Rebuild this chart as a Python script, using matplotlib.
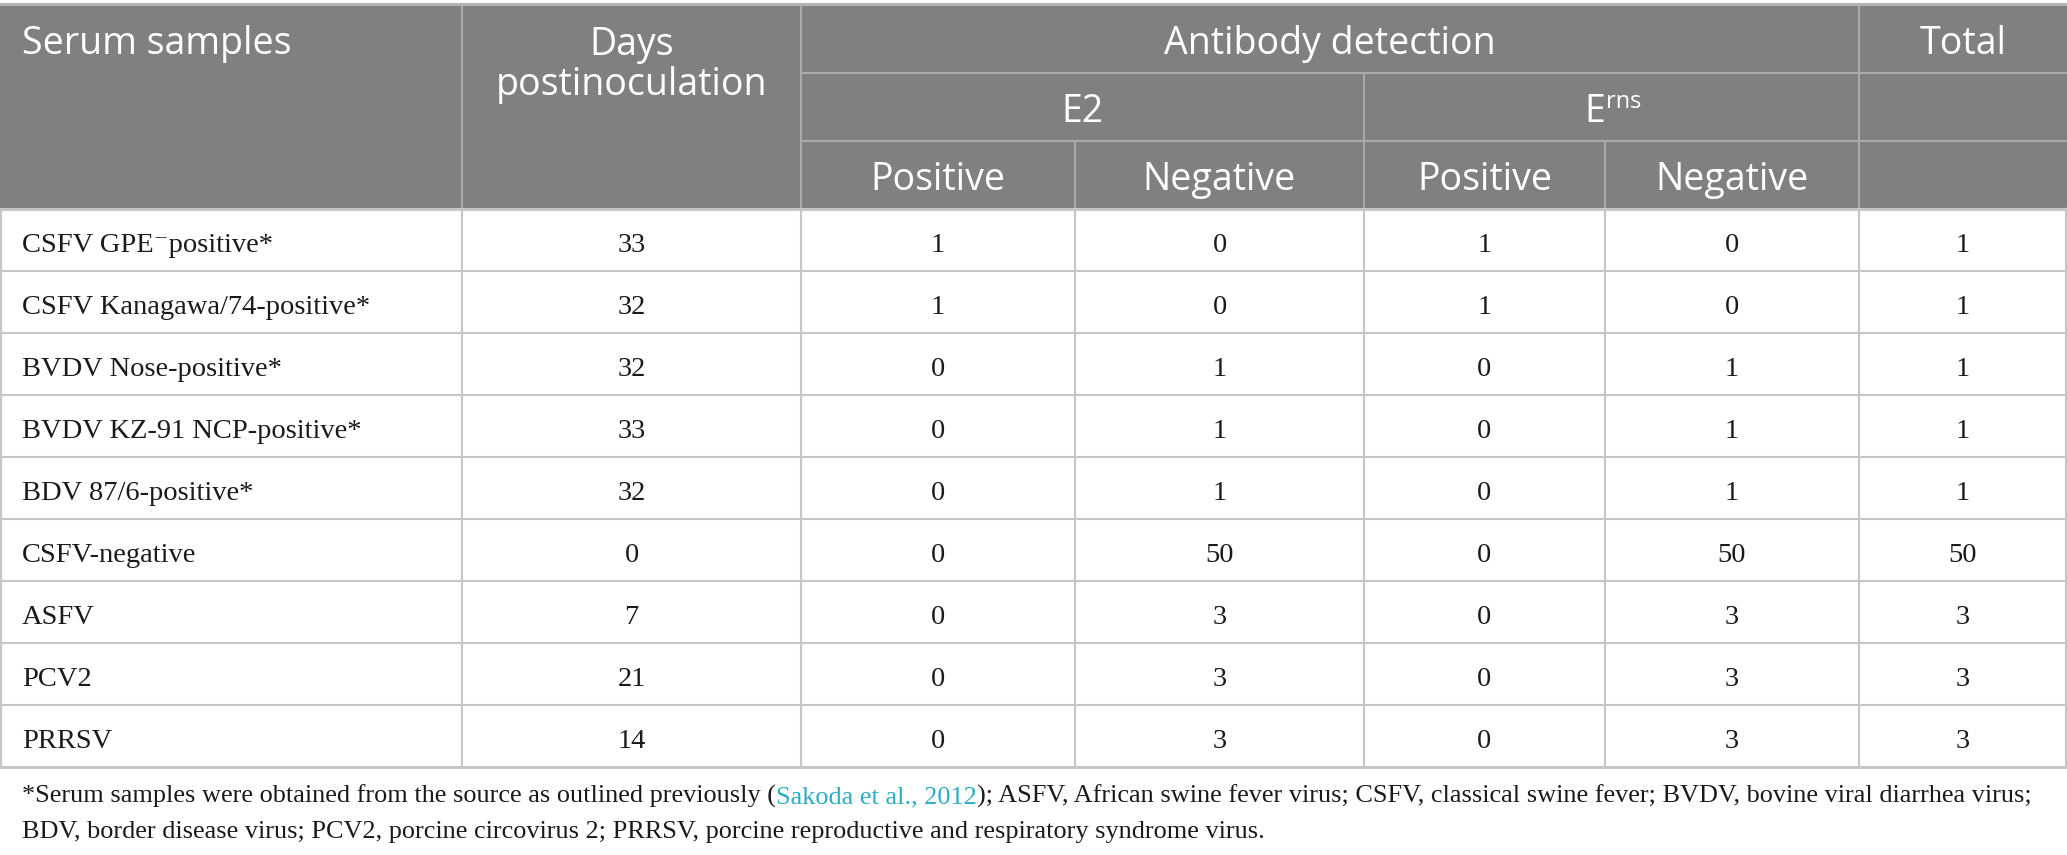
import matplotlib.pyplot as plt
from matplotlib.patches import Rectangle

# table contents
samples = ["CSFV GPE\u207bpositive*", "CSFV Kanagawa/74-positive*", "BVDV Nose-positive*",
           "BVDV KZ-91 NCP-positive*", "BDV 87/6-positive*", "CSFV-negative",
           "ASFV", "PCV2", "PRRSV"]
days = [33, 32, 32, 33, 32, 0, 7, 21, 14]
e2_pos = [1, 1, 0, 0, 0, 0, 0, 0, 0]
e2_neg = [0, 0, 1, 1, 1, 50, 3, 3, 3]
erns_pos = [1, 1, 0, 0, 0, 0, 0, 0, 0]
erns_neg = [0, 0, 1, 1, 1, 50, 3, 3, 3]
total = [1, 1, 1, 1, 1, 50, 3, 3, 3]
sub_labels = ["Positive", "Negative", "Positive", "Negative"]

footnote1_a = "*Serum samples were obtained from the source as outlined previously ("
footnote1_link = "Sakoda et al., 2012"
footnote1_b = "); ASFV, African swine fever virus; CSFV, classical swine fever; BVDV, bovine viral diarrhea virus;"
footnote2 = "BDV, border disease virus; PCV2, porcine circovirus 2; PRRSV, porcine reproductive and respiratory syndrome virus."

W, H = 2067, 855
fig = plt.figure(figsize=(W / 100, H / 100), dpi=100)
ax = fig.add_axes([0, 0, 1, 1])
ax.set_xlim(0, W)
ax.set_ylim(H, 0)
ax.axis("off")

HEAD = "#7f807f"
HLINE = "#a9aaa9"
GRID = "#c6c6c6"
TXT = "#1a1a1a"
sans = ["Open Sans", "DejaVu Sans"]
serif = ["Liberation Serif", "DejaVu Serif"]

cols = [0, 462, 801, 1075, 1364, 1605, 1859, W]
top, h1, h2, hb = 4, 73, 141, 209
row_h = 62.0
n = len(samples)
bottom = hb + n * row_h

# header block
ax.add_patch(Rectangle((0, top), W, hb - top, color=HEAD, zorder=0))
ax.plot([0, W], [top, top], color="#b4b4b4", lw=2.2, zorder=3)
ax.plot([cols[2], W], [h1, h1], color=HLINE, lw=1.5)
ax.plot([cols[2], W], [h2, h2], color=HLINE, lw=1.5)
for x in [cols[1], cols[2], cols[6]]:
    ax.plot([x, x], [top, hb], color=HLINE, lw=1.5)
ax.plot([cols[4], cols[4]], [h1, hb], color=HLINE, lw=1.5)
for x in [cols[3], cols[5]]:
    ax.plot([x, x], [h2, hb], color=HLINE, lw=1.5)

hs = 27
ax.text(22, 54, "Serum samples", color="white", fontsize=hs, family=sans, va="baseline")
cx = [(cols[i] + cols[i + 1]) / 2 for i in range(len(cols) - 1)]
ax.text(cx[1], 55, "Days", color="white", fontsize=hs, family=sans, ha="center", va="baseline")
ax.text(cx[1], 95, "postinoculation", color="white", fontsize=hs, family=sans, ha="center", va="baseline")
ax.text((cols[2] + cols[6]) / 2, 54, "Antibody detection", color="white", fontsize=hs,
        family=sans, ha="center", va="baseline")
ax.text(cx[6], 54, "Total", color="white", fontsize=hs, family=sans, ha="center", va="baseline")
ax.text((cols[2] + cols[4]) / 2, 122, "E2", color="white", fontsize=hs, family=sans,
        ha="center", va="baseline")
ec = (cols[4] + cols[6]) / 2
ax.text(ec - 6, 122, "E", color="white", fontsize=hs, family=sans, ha="right", va="baseline")
ax.text(ec - 5, 108, "rns", color="white", fontsize=17, family=sans, ha="left", va="baseline")
for i, lab in enumerate(sub_labels):
    ax.text(cx[2 + i], 190, lab, color="white", fontsize=hs, family=sans, ha="center", va="baseline")

# body rows
for r in range(n + 1):
    y = hb + r * row_h
    ax.plot([0, W], [y, y], color=GRID, lw=1.5 if 0 < r < n else 2.2)
for x in cols:
    xx = min(max(x, 1), W - 1)
    ax.plot([xx, xx], [hb, bottom], color=GRID, lw=1.5)

bs = 20.5
for r in range(n):
    yb = hb + r * row_h + 43
    ax.text(22, yb, samples[r], color=TXT, fontsize=bs, family=serif, va="baseline")
    vals = [days[r], e2_pos[r], e2_neg[r], erns_pos[r], erns_neg[r], total[r]]
    for j, v in enumerate(vals):
        ax.text(cx[j + 1], yb, str(v), color=TXT, fontsize=bs, family=serif,
                ha="center", va="baseline")

# footnote with a coloured citation
fs = 18.9
t1 = ax.text(22, 803, footnote1_a, color=TXT, fontsize=fs, family=serif, va="baseline")
fig.canvas.draw()
t2 = ax.annotate(footnote1_link, xycoords=t1, xy=(1, 0), va="bottom", color="#2aaec6",
                 fontsize=fs, family=serif)
fig.canvas.draw()
ax.annotate(footnote1_b, xycoords=t2, xy=(1, 0), va="bottom", color=TXT, fontsize=fs, family=serif)
ax.text(22, 838, footnote2, color=TXT, fontsize=fs, family=serif, va="baseline")

fig.savefig("out.png", dpi=100)
